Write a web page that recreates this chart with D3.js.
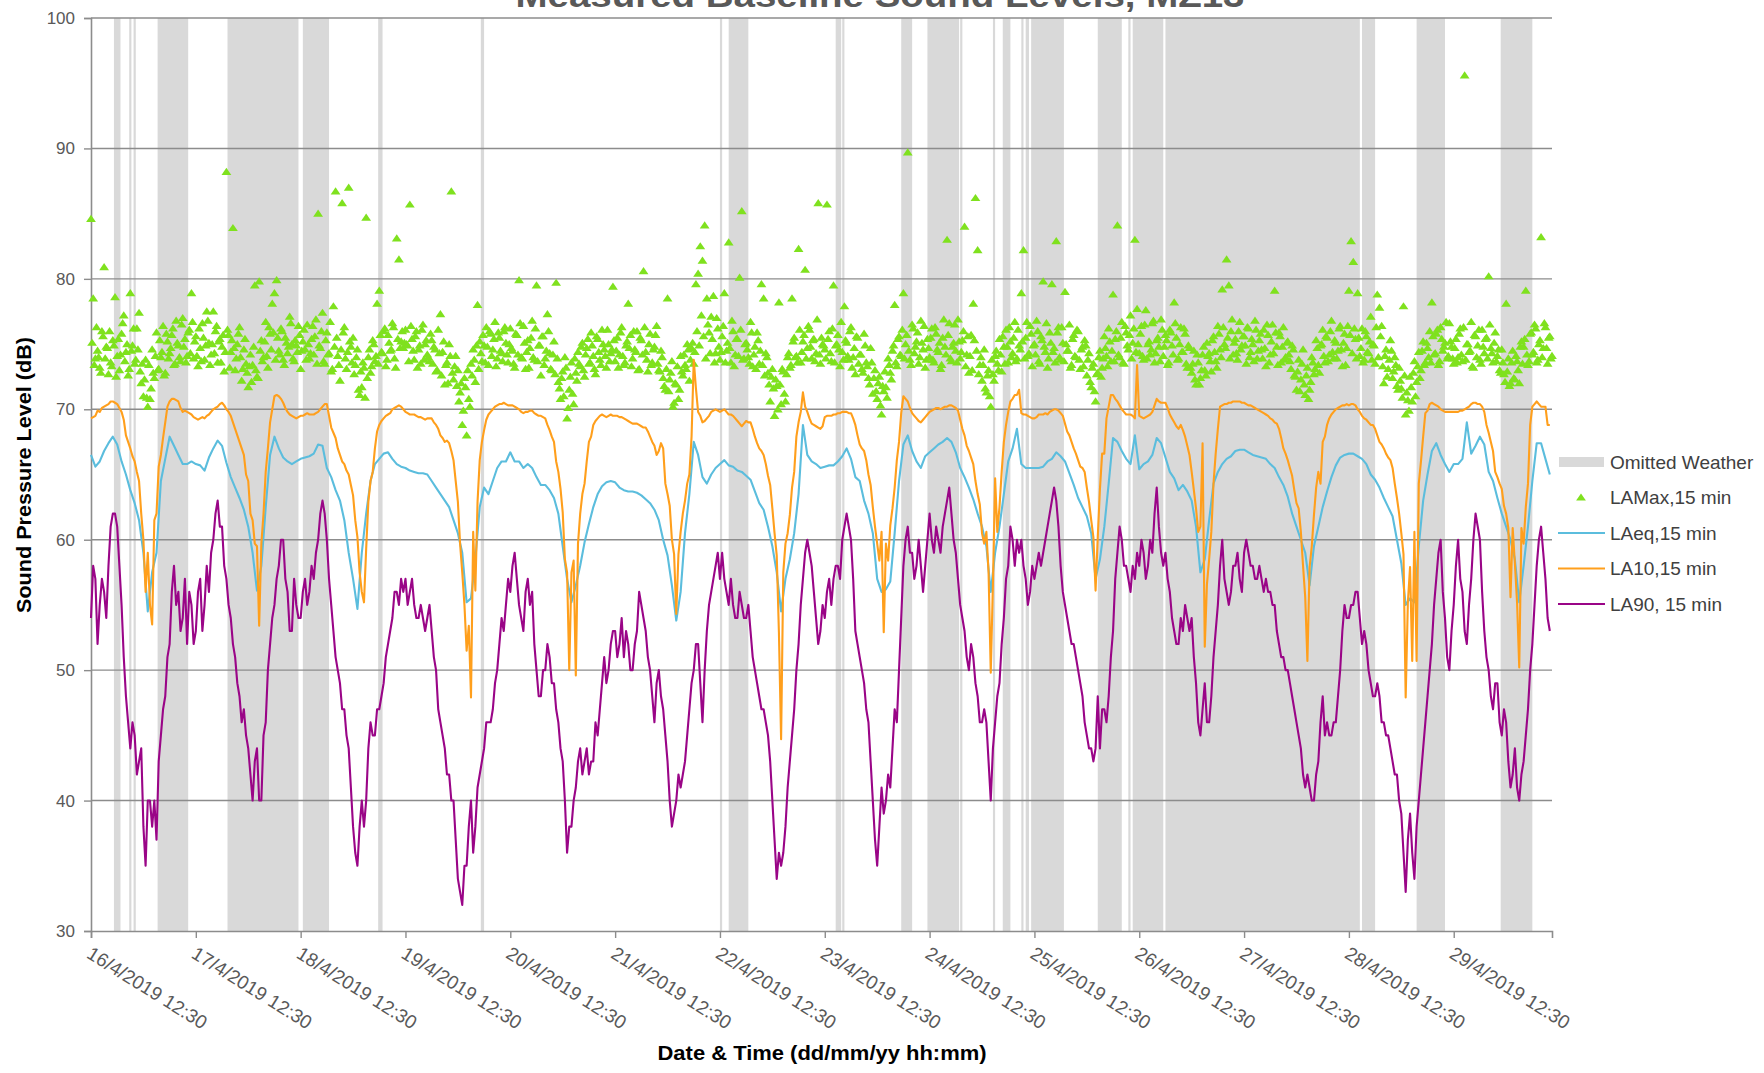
<!DOCTYPE html>
<html><head><meta charset="utf-8">
<script src="https://cdn.jsdelivr.net/npm/d3@7"></script>
<style>
body{margin:0;background:#fff;}
text{font-family:"Liberation Sans",Arial,sans-serif;}
</style>
</head><body>
<svg id="c" width="1764" height="1073"></svg>
<script>
// ---------- DATA ----------
const START = "2019-04-16 12:30";   // first sample
const END = "2019-04-30 11:00";     // end of plotted period

// LA90, half-hourly values starting 16/4/2019 12:30
const la90 = [
54,58,57,52,55,57,56,54,58,61,62,62,61,58,55,51,48,46,44,46,45,42,43,44,38,35,40,40,38,40,37,43,45,47,48,51,52,56,58,55,56,53,54,57,52,56,55,52,
53,56,57,53,55,58,56,59,60,62,63,61,61,58,57,55,54,52,51,49,48,46,47,45,44,42,40,43,44,40,40,45,46,50,52,54,55,57,58,60,60,57,56,53,53,57,55,54,
54,56,57,55,56,58,57,59,60,62,63,62,60,57,55,53,51,50,49,47,47,45,44,41,38,36,35,38,40,38,40,44,46,45,45,47,47,48,49,51,52,53,54,56,56,55,57,56,
57,55,56,57,55,54,54,55,54,53,54,55,53,51,50,47,46,45,44,42,42,40,40,37,34,33,32,35,35,38,40,36,38,41,42,43,44,46,46,46,47,49,50,52,54,53,55,57,
56,58,59,57,55,54,53,56,57,55,56,52,50,48,48,50,50,52,51,49,49,47,46,44,43,40,36,38,38,40,41,43,44,42,43,44,42,43,43,46,45,47,49,51,49,50,52,53,
53,51,52,54,51,53,52,50,50,52,53,56,55,54,53,51,50,48,46,49,50,48,47,45,43,40,38,39,40,42,41,42,43,45,47,49,50,52,52,49,46,50,53,55,56,57,58,59,
57,59,57,56,55,57,55,54,54,56,55,54,54,55,53,51,50,49,48,47,47,46,45,43,40,37,34,36,35,36,38,41,43,45,47,50,52,55,57,59,60,59,58,56,54,52,53,55,
54,56,57,55,57,58,58,57,60,61,62,61,60,57,53,52,51,50,49,47,46,43,40,37,35,38,41,39,40,42,41,44,47,46,50,54,58,60,61,59,59,57,58,60,58,56,58,60,
62,60,59,61,60,59,61,62,63,64,62,60,59,57,55,54,53,51,50,52,51,49,48,46,46,47,46,43,40,44,46,48,49,52,54,57,58,61,60,58,60,59,60,58,57,55,56,58,
57,58,59,58,59,60,61,62,63,64,63,61,58,56,55,54,53,52,52,51,50,49,48,46,45,44,44,43,44,48,44,47,47,46,48,51,53,57,59,61,60,58,58,57,56,58,57,59,
58,60,59,57,58,60,59,62,64,61,59,58,59,57,56,54,53,52,52,54,53,55,54,53,54,51,49,46,45,47,49,46,46,48,51,53,55,58,60,57,56,55,56,58,58,59,57,56,
59,60,59,58,58,57,57,58,57,56,57,56,56,55,55,53,52,51,51,50,50,49,48,47,46,45,44,42,41,42,41,40,40,42,43,46,48,45,46,45,45,46,46,48,50,53,55,54,
54,55,55,56,56,54,52,53,52,50,49,48,48,49,48,46,46,45,45,44,43,42,42,40,39,36,33,37,39,36,34,38,40,42,44,46,48,50,52,55,57,59,60,56,54,51,50,53,
55,58,60,57,56,53,52,55,57,60,62,61,60,56,53,51,50,48,47,49,49,46,45,47,46,43,41,42,44,41,40,42,43,45,47,50,52,55,58,60,61,59,57,54,53
];

// LA10, half-hourly
const la10 = [
69.3,69.4,69.5,69.9,69.8,70.1,70.2,70.3,70.4,70.6,70.6,70.5,70.4,70.1,69.8,69.2,68,67.5,67,66.4,66,65.2,64.5,62,60,56,59,55,53.5,61.5,62,65.6,66.5,67.8,69,70.2,70.6,70.8,70.8,70.7,70.6,70.1,69.8,69.9,69.8,69.7,69.6,69.4,
69.3,69.2,69.3,69.4,69.3,69.5,69.6,69.8,70,70.1,70.2,70.4,70.5,70.3,70,69.8,69.5,69,68.5,68,67.5,67,66.5,65,64.5,62,61.5,59.7,59.5,53.4,59.7,62,65.2,67,69,70,71,71.1,71,70.8,70.5,70.1,69.8,69.6,69.5,69.4,69.3,69.4,
69.5,69.5,69.6,69.7,69.6,69.6,69.6,69.7,69.8,70,70.2,70.4,70.4,69.5,68.6,68.2,67.8,67,66.5,66,65.8,65.3,65,64.2,63.4,61.5,60.2,57.5,56,55.2,59.3,62.9,64.5,65.2,67,68.3,68.8,69.1,69.3,69.5,69.6,69.7,70,70.1,70.2,70.3,70.2,70,
69.8,69.7,69.6,69.6,69.6,69.5,69.4,69.4,69.3,69.2,69.3,69.3,69.3,69,68.8,68.5,68,67.8,67.5,67.6,67.4,66.8,66.1,64.5,62.9,59.7,57.5,55,51.5,53.4,47.9,60.6,56.1,62.9,66.1,67.5,68.4,69.2,69.6,69.8,70,70.2,70.3,70.4,70.4,70.5,70.4,70.3,
70.3,70.3,70.2,70.1,70,69.8,69.7,69.8,69.8,69.9,69.9,69.7,69.6,69.5,69.5,69.4,69.3,68.8,68.4,67.9,67.5,66,65.2,63.9,62.1,58.5,57.5,50,57.5,58.4,49.6,59.7,62,63.5,64.3,66,67.5,67.9,68.8,69.1,69.3,69.5,69.6,69.5,69.4,69.5,69.6,69.5,
69.5,69.5,69.4,69.4,69.3,69.2,69.1,69,68.9,68.9,68.9,68.8,68.7,68.6,68.6,68.3,67.9,67.5,67.2,66.5,66.8,67.4,67,64.3,63.5,62.6,60,58.9,54.3,58.9,60.6,62,63,64.3,65,67.9,73.8,71.6,69.8,69.5,69,69.1,69.3,69.5,69.8,69.9,70,69.9,
69.8,69.9,70,69.8,69.6,69.6,69.5,69.3,69.1,68.9,68.7,68.9,69.1,69,69,68.5,67.9,67.4,67,66.8,66.5,65.8,64.9,64.2,62.4,60.5,58.8,52.9,44.7,57.5,59.7,60.5,61.9,64,65.2,67.9,69,69.8,71.3,70.2,69.8,69.3,68.9,68.8,68.7,68.6,68.5,68.7,
69.4,69.5,69.5,69.5,69.6,69.6,69.7,69.7,69.8,69.8,69.8,69.7,69.7,69.3,68.8,68,67.3,67,66.8,66.1,65,64.2,62.5,61,59.7,58.4,60.6,52.9,59.7,58.4,61.1,62.4,64,66.1,67.5,69.7,71,70.8,70.6,70.1,69.7,69.5,69.3,69.1,69,69.2,69.4,69.6,
69.8,69.9,70,70.1,70.1,70,70.1,70.2,70.2,70.3,70.3,70.2,70.1,69.9,69.2,68.5,68,67.2,66.8,66.3,65.8,64.5,63.5,62.7,60.5,59.7,60.6,57.5,49.8,56.6,64.7,60.6,62.5,65.2,67.5,68.8,69.8,70.6,70.8,71.1,71.1,71.5,69.7,69.6,69.6,69.5,69.4,69.3,
69.3,69.4,69.6,69.6,69.6,69.7,69.6,69.8,69.9,70,70,69.9,69.7,69.5,68.9,68.3,68,67.5,67,66.6,66.1,65.6,65.5,65.2,64,62.9,61.5,60.2,56.1,60.2,63.9,66.6,66.6,69.3,70.2,71.1,71.1,70.8,70.6,70.3,70,69.8,69.6,69.6,69.6,69.5,69.3,73.4,
69.5,69.4,69.3,69.4,69.5,69.6,69.8,70.3,70.8,70.6,70.5,70.5,70.5,70.1,69.6,69.3,69,68.7,68.5,68.8,68.4,67.9,67.2,66.5,65.2,63.8,62.4,60.6,61,67.4,51.8,56.6,58.5,60.6,64.3,66.6,68.5,70.2,70.3,70.4,70.4,70.5,70.5,70.6,70.6,70.6,70.6,70.5,
70.5,70.4,70.3,70.3,70.2,70.1,70,69.9,69.8,69.7,69.6,69.5,69.3,69.2,69,68.9,68.5,67.8,67,66.6,66.1,65.5,64.9,63.8,62.8,62.4,60.6,58,55.6,50.7,57.9,59.5,61.9,64,65.2,64.3,67.5,67.9,68.8,69.3,69.6,69.8,70,70.1,70.2,70.3,70.3,70.4,
70.3,70.4,70.4,70.3,70,69.8,69.5,69.3,69.2,69,68.8,68.8,68.5,68,67.5,67.3,67,66.6,66.3,66.1,65.5,64.3,63.2,62,60.5,58.9,47.9,55.2,57.9,50.7,60.6,50.7,64.3,66,67.9,69.7,69.9,70.4,70.5,70.4,70.3,70.2,70,69.9,69.8,69.8,69.8,69.8,
69.8,69.8,69.8,69.9,69.9,70,70.1,70.2,70.4,70.5,70.5,70.4,70.4,70.2,69.8,68.8,68.2,67.5,66.8,65.2,64.8,64.3,63.9,62.6,62,60.9,55.6,60.9,58.2,55.2,50.2,60.9,59.7,62.5,64.3,68.8,70.2,70.4,70.6,70.4,70.2,70.2,70.2,68.8,68.8
];

// LAeq, hourly
const laeq = [
66.5,65.6,66,66.8,67.4,67.9,67.3,66,65,63.8,62.8,61.5,59,54.5,57.5,59,64.5,66.2,67.9,67.2,66.5,65.8,65.8,66,
65.8,65.7,65.3,66.3,67,67.6,67.2,65.9,64.8,64,63.2,62.3,61,59,56.1,58,62.5,66.5,67.9,67,66.3,66,65.8,66,
66.2,66.3,66.4,66.6,67.3,67.2,65.5,64.8,63.8,63,61.5,59,57,54.7,59,62,64.5,65.8,66.2,66.6,66.7,66.2,65.8,65.6,
65.5,65.3,65.2,65.1,65.1,65,64.5,64,63.5,63,62.5,61.5,60.5,59,55.2,55.5,58.5,62.5,64,63.5,64.5,65.5,66,66,
66.7,66,66,65.5,65.8,65.5,64.8,64.2,64.2,63.8,63.2,62,59.5,57,55.2,56.5,58,59.8,61.2,62.5,63.5,64.1,64.4,64.5,
64.4,64,63.8,63.7,63.7,63.6,63.4,63.1,62.8,62.3,61.5,60,58.8,56.5,53.8,56,60.5,63.5,67.5,66.5,64.8,64.3,65,65.5,
65.8,66.1,65.7,65.6,65.3,65.2,64.9,64.6,63.7,62.8,62.3,61,59.5,57.5,54.5,57,58.5,60.5,63.5,68.8,66.5,66,65.8,65.5,
65.6,65.7,65.7,66,66.4,67,66.2,64.8,64.5,63,62,60.5,57,56,56.2,56.8,60.5,64.5,67.3,68,66.8,66,65.5,66.4,
66.7,67,67.3,67.5,67.8,67.5,66.7,65.5,64.8,64,63.1,62,61,59.5,56,59,61,63.5,66,67,68.5,65.8,65.5,65.5,
65.5,65.5,65.6,66,66.2,66.7,66.4,66,65.1,64.2,63.2,62.5,61.8,60.5,57,58.5,61,64.3,67.8,67.5,66.8,66.2,65.8,68,
65.4,65.8,66,66.5,67.8,67.4,66.3,65.2,64.7,63.8,64.2,63.7,63,61,57.5,58.5,61.5,64.3,65.2,65.8,66.2,66.4,66.8,66.9,
66.9,66.7,66.5,66.4,66.3,66.2,65.8,65.5,64.8,64.2,63.3,62,61,60,59,56.5,59.5,61,62.5,63.7,64.8,65.7,66.3,66.5,
66.6,66.6,66.4,66.2,65.8,65,64.6,64,63.2,62.5,61.8,60,58.2,55,55.5,55.2,59.5,63,65,66.8,67.4,66.5,65.8,65.2,
65.8,65.8,66.2,69,66.6,67.2,67.9,67.3,65.2,64.5,63.2,62,61,60,58.5,55.2,58,61,64.5,67.4,67.4,66.2,65
];

// LAMax at :30 / :00 (half-hourly from 16/4/2019 12:30)
const lamax = [
84.6,78.5,73.9,74.5,73.2,76.0,80.9,74.8,72.7,73.6,75.3,78.6,74.1,73.0,75.8,77.2,74.4,72.6,78.9,74.9,73.5,76.2,77.4,72.0,
71.0,73.8,70.2,70.8,74.6,72.4,75.9,73.1,74.0,76.4,72.8,75.2,74.3,75.7,73.4,76.8,74.9,73.7,77.0,75.4,74.1,76.1,78.9,73.9,
75.6,73.3,74.7,76.6,73.8,77.5,75.1,74.2,77.5,76.0,73.6,75.4,74.8,72.9,88.2,75.7,74.4,83.9,73.0,75.0,76.3,72.2,74.6,73.5,
71.7,74.2,73.4,79.5,72.5,79.8,75.3,74.0,76.7,73.2,75.8,78.1,78.9,79.9,74.5,76.2,73.8,75.5,74.3,77.1,75.0,73.7,74.9,76.4,
73.1,75.2,74.6,76.5,73.9,75.4,74.2,76.9,85.0,74.7,77.4,73.5,75.9,74.3,72.9,77.9,86.7,74.1,72.2,85.8,76.3,73.1,87.0,74.8,
75.5,73.4,74.6,71.1,71.7,73.2,84.7,74.0,72.8,75.3,73.7,78.1,79.1,74.4,76.0,73.3,75.7,74.5,76.6,73.9,83.1,81.5,75.2,74.7,
76.1,74.9,85.7,75.4,73.8,76.0,74.6,73.5,76.5,75.0,74.2,73.7,75.3,74.8,72.9,76.1,77.3,74.4,71.9,73.6,75.0,86.7,72.3,74.1,
73.0,71.3,68.8,72.4,68.0,70.8,73.5,74.6,72.1,78.0,75.2,73.7,74.9,76.3,73.4,75.8,74.6,76.7,73.9,75.5,74.3,76.0,75.1,73.6,
76.2,74.5,73.2,75.7,79.9,74.0,76.4,73.1,75.3,74.7,76.8,73.8,79.5,74.9,72.6,75.6,73.9,77.3,74.3,73.0,75.2,79.7,72.1,70.8,
72.9,74.0,69.3,71.5,73.6,70.4,72.8,74.4,73.3,75.1,72.5,74.7,73.5,75.9,74.1,72.7,75.4,73.8,76.1,74.6,73.2,75.0,74.3,79.4,
73.7,75.5,74.2,76.3,73.4,74.9,78.1,75.7,73.9,74.6,76.0,73.1,75.3,80.6,74.4,72.9,75.8,73.6,74.8,76.4,73.0,74.5,72.4,71.5,
78.5,72.3,73.7,70.5,71.9,70.8,74.1,72.6,73.4,75.0,72.2,74.7,73.5,79.6,80.4,82.5,81.4,84.1,78.5,75.9,77.1,78.7,74.3,76.2,
73.8,75.6,78.9,74.5,82.8,73.6,76.0,74.2,75.4,80.1,85.2,73.9,75.1,74.0,76.7,73.3,74.8,75.9,73.5,79.6,78.5,74.3,72.8,70.6,
73.1,69.5,71.8,78.2,70.4,72.9,70.6,74.0,73.2,78.5,75.5,74.1,82.3,73.6,75.2,80.7,74.7,76.1,73.9,75.4,74.3,85.8,73.5,75.0,
74.6,85.7,76.0,73.7,79.5,74.9,75.7,73.3,74.4,77.9,75.1,73.8,76.3,74.0,72.7,75.5,74.2,73.1,75.8,73.6,72.4,74.7,71.2,73.0,
70.8,72.5,69.6,71.4,71.7,73.9,72.8,74.5,78.0,73.3,75.6,74.1,78.9,75.0,89.7,73.8,76.5,74.3,75.2,73.5,76.8,74.6,73.2,75.4,
74.0,76.2,73.6,75.8,74.4,73.1,75.5,74.8,83.0,76.6,73.7,75.1,74.5,76.9,73.9,75.3,84.0,74.2,72.8,75.7,78.1,86.2,82.2,73.4,
72.2,74.6,71.3,73.0,70.2,72.7,74.1,73.5,75.4,72.9,74.8,76.1,73.6,75.2,74.3,76.7,73.9,74.9,78.9,82.2,75.5,74.1,76.4,73.3,
75.0,76.8,73.7,75.6,79.8,74.4,73.2,75.9,79.6,74.7,82.9,76.3,73.8,75.1,79.0,74.5,76.5,73.4,75.7,74.0,76.0,73.1,74.8,75.3,
72.6,74.3,71.7,73.5,70.6,72.8,74.5,73.2,75.6,74.1,76.2,73.7,78.8,75.4,84.1,74.0,76.7,73.5,75.9,74.6,77.2,75.1,83.0,77.7,
74.3,76.4,73.8,77.6,75.0,74.2,76.6,73.6,75.3,74.8,76.9,74.1,75.7,73.4,76.1,74.9,78.2,75.5,73.9,76.3,74.4,75.8,73.2,74.7,
72.8,74.5,71.9,73.6,72.4,74.2,73.0,75.1,74.3,72.9,75.6,73.7,76.4,74.6,79.2,75.0,81.5,79.5,76.0,74.2,75.4,73.8,76.7,74.9,
75.6,73.5,76.2,74.4,75.0,76.8,73.9,75.3,74.6,76.1,73.3,75.7,74.2,76.5,79.1,74.8,75.9,73.6,76.3,74.0,75.2,73.7,74.9,72.6,
71.5,73.8,72.3,74.6,71.1,73.2,71.5,74.0,72.7,75.3,73.4,74.9,76.1,73.6,75.5,74.2,76.8,73.9,75.1,74.5,76.4,73.3,75.8,74.7,
79.1,82.9,81.3,75.4,78.9,74.1,76.2,73.8,75.6,74.3,77.1,75.0,73.5,78.8,77.8,76.4,72.0,74.6,73.1,75.3,72.4,74.0,71.8,73.2,
71.6,77.9,69.6,70.7,72.5,70.6,73.7,72.1,74.4,73.0,75.2,73.6,74.7,76.0,78.2,74.2,75.8,73.4,76.3,74.5,75.1,73.9,76.6,74.8,
73.5,75.4,74.0,76.2,73.7,95.6,75.0,74.4,76.7,73.2,75.6,74.9,73.8,76.1,74.3,75.5,80.2,74.7,73.6,75.9,74.1,73.0,74.6,72.7,
78.1,73.9,72.0,74.5,72.3,73.7,72.0,75.2,74.8,79.1,73.4,75.8,74.2,76.5,73.6,75.0,83.2,74.7,76.3,73.5,75.6,74.1
];

// LAMax at :45 / :15 (the other 15-min samples, half-hourly from 16/4/2019 12:45)
const lamaxB = [
75.1,73.4,76.3,74.0,72.8,75.6,73.9,74.7,76.0,73.3,74.9,72.5,75.4,74.2,76.6,73.7,75.0,73.1,74.5,76.2,73.8,74.6,72.9,73.5,
72.3,70.9,73.4,71.6,72.8,74.1,73.0,75.3,74.4,72.6,75.8,73.9,74.7,76.2,73.5,75.1,74.0,76.5,74.8,73.6,75.9,74.3,76.7,75.2,
74.1,76.2,73.7,75.5,74.9,76.8,73.4,75.0,74.3,76.4,75.2,73.6,75.7,74.4,76.1,73.2,75.3,74.7,73.9,75.8,74.0,73.1,75.4,72.8,
73.3,72.1,74.8,73.0,72.4,74.5,73.7,75.2,74.1,76.3,74.6,75.9,73.8,75.5,74.2,76.0,73.4,75.1,74.8,76.6,73.9,75.3,74.4,75.7,
74.5,76.1,73.8,75.0,74.3,76.4,75.6,73.5,74.9,76.0,73.7,75.3,74.2,76.7,73.1,74.8,75.5,73.4,74.6,75.9,73.9,74.4,75.2,73.6,
72.7,74.0,71.5,72.9,73.6,70.9,72.4,74.6,73.3,75.0,74.1,73.5,75.7,74.3,76.2,73.8,75.1,74.6,76.3,73.2,75.4,74.7,76.0,75.1,
75.0,73.7,76.4,74.5,75.6,73.2,74.9,76.1,73.8,75.3,74.0,75.8,73.5,74.6,73.0,74.3,72.6,75.2,73.4,72.0,74.1,72.8,73.3,71.8,
70.6,72.0,69.9,71.7,73.0,70.2,72.6,73.8,74.9,73.1,74.3,75.7,73.6,74.8,76.0,74.1,75.4,73.3,75.9,74.5,73.7,76.3,74.2,75.0,
74.7,73.5,75.8,74.2,76.6,73.9,75.1,74.4,73.2,75.5,74.0,76.2,73.7,74.9,75.6,73.4,74.5,76.0,73.1,74.2,72.7,73.9,71.6,72.4,
71.0,73.2,70.1,72.5,71.2,73.9,72.2,73.5,74.8,73.0,74.2,75.4,73.6,74.9,73.1,75.6,74.4,73.4,75.0,74.1,76.1,73.7,74.6,75.3,
74.5,73.2,75.9,74.1,73.6,75.2,74.7,73.3,76.0,74.4,73.0,75.5,74.2,76.3,73.8,75.0,73.4,74.6,75.7,73.5,72.9,74.0,71.8,73.1,
71.4,72.8,70.2,72.0,73.3,71.5,72.9,74.2,73.1,74.6,73.8,75.1,74.4,76.0,74.9,77.2,75.6,73.9,76.5,74.3,75.4,73.6,77.0,74.8,
74.4,76.4,73.6,75.1,74.7,76.8,73.3,75.4,74.1,76.1,73.8,75.0,74.6,73.5,75.9,74.2,73.1,75.3,74.5,73.4,72.6,74.0,71.9,72.5,
71.6,72.3,70.0,71.9,73.1,71.2,72.7,74.3,73.4,75.2,74.0,73.6,76.1,74.4,75.7,73.9,76.4,74.8,75.3,73.7,76.9,74.2,75.5,74.9,
73.9,75.4,74.3,76.2,73.6,75.0,74.6,76.7,73.8,75.3,74.1,76.0,73.2,74.7,75.6,73.5,74.2,72.8,74.9,73.3,71.9,73.6,72.4,71.4,
72.0,70.3,71.8,72.9,70.9,73.4,72.3,74.9,73.6,75.4,74.2,76.1,73.9,75.7,74.5,73.4,76.2,74.8,75.9,74.0,75.1,76.4,73.8,74.7,
75.5,73.8,76.3,74.6,75.1,73.4,76.9,74.2,75.7,73.9,74.8,76.5,73.6,75.2,74.4,76.0,73.3,75.6,74.1,73.0,75.3,74.5,72.7,74.0,
73.4,71.6,72.6,71.0,73.8,72.2,74.5,73.0,74.2,75.6,73.5,74.8,76.3,74.0,75.5,73.7,76.1,74.6,75.2,73.9,76.7,74.3,75.8,74.9,
74.2,76.0,73.5,75.3,74.8,76.6,73.9,75.1,74.4,73.6,75.9,74.0,76.3,73.7,75.0,74.5,73.2,75.4,74.1,76.1,73.8,74.6,73.3,74.9,
73.8,72.1,73.2,71.4,72.7,74.0,72.5,73.9,74.7,73.3,75.2,74.5,73.7,76.0,74.2,75.5,73.6,76.4,74.9,75.7,73.9,76.2,74.4,75.0,
75.8,74.1,76.5,73.9,75.2,74.6,76.8,74.3,75.5,73.7,76.1,74.8,75.3,73.6,75.9,74.2,76.6,73.8,75.0,74.4,76.2,73.5,74.9,73.2,
73.5,72.3,74.2,71.9,73.0,74.8,72.6,74.1,73.7,75.3,74.4,73.2,75.8,74.0,76.3,74.7,75.5,73.9,76.9,75.1,74.3,76.0,74.6,75.6,
74.9,76.3,74.0,75.4,73.7,76.1,74.5,75.8,73.9,74.7,76.5,73.6,75.2,74.3,75.9,73.4,75.6,74.8,73.8,75.1,74.2,73.1,74.6,72.5,
72.9,71.4,73.5,71.9,72.6,70.8,72.1,73.6,73.1,74.7,72.8,75.0,74.1,75.6,73.7,76.0,74.4,75.3,73.9,76.2,74.6,75.1,73.4,76.4,
75.7,74.3,76.2,73.9,75.5,74.7,73.6,76.0,74.4,75.2,73.8,74.9,76.3,74.0,75.6,73.3,74.1,72.5,73.8,74.5,72.9,73.4,71.5,72.2,
70.9,72.6,71.3,69.9,71.7,72.8,71.0,73.3,72.4,74.5,73.4,75.1,74.0,73.6,75.6,74.3,76.1,73.7,75.4,74.8,76.7,74.1,75.2,73.9,
74.7,73.6,75.8,74.2,76.3,73.8,75.0,74.5,73.3,75.7,74.0,76.1,73.5,74.8,75.4,73.9,76.5,74.3,75.1,73.7,74.6,72.8,73.6,72.1,
72.9,71.8,73.6,72.4,74.1,73.0,74.8,73.5,75.4,74.2,73.7,75.9,74.4,76.2,73.8,75.3,74.0,76.6,74.7,75.5,73.9,74.6
];

// Omitted weather periods [start, end]
const omitted = [
["2019-04-16 17:45","2019-04-16 19:15"],
["2019-04-16 21:15","2019-04-16 21:45"],
["2019-04-16 22:15","2019-04-16 22:45"],
["2019-04-17 03:45","2019-04-17 10:45"],
["2019-04-17 19:45","2019-04-18 12:00"],
["2019-04-18 13:00","2019-04-18 19:00"],
["2019-04-19 06:15","2019-04-19 07:15"],
["2019-04-20 05:45","2019-04-20 06:30"],
["2019-04-22 12:30","2019-04-22 13:00"],
["2019-04-22 14:30","2019-04-22 19:00"],
["2019-04-23 15:00","2019-04-23 16:15"],
["2019-04-23 16:30","2019-04-23 17:00"],
["2019-04-24 06:00","2019-04-24 08:30"],
["2019-04-24 12:00","2019-04-24 19:15"],
["2019-04-24 19:30","2019-04-24 20:00"],
["2019-04-25 03:00","2019-04-25 03:30"],
["2019-04-25 05:15","2019-04-25 07:00"],
["2019-04-25 09:30","2019-04-25 10:00"],
["2019-04-25 10:30","2019-04-25 11:15"],
["2019-04-25 11:45","2019-04-25 19:15"],
["2019-04-26 03:00","2019-04-26 08:30"],
["2019-04-26 10:00","2019-04-26 10:30"],
["2019-04-26 11:00","2019-04-26 18:00"],
["2019-04-26 18:30","2019-04-28 15:00"],
["2019-04-28 15:30","2019-04-28 18:30"],
["2019-04-29 04:00","2019-04-29 10:30"],
["2019-04-29 23:15","2019-04-30 06:30"]
];

const xTickLabels = ["16/4/2019 12:30","17/4/2019 12:30","18/4/2019 12:30","19/4/2019 12:30",
"20/4/2019 12:30","21/4/2019 12:30","22/4/2019 12:30","23/4/2019 12:30","24/4/2019 12:30",
"25/4/2019 12:30","26/4/2019 12:30","27/4/2019 12:30","28/4/2019 12:30","29/4/2019 12:30"];
const yTicks = [30,40,50,60,70,80,90,100];
const gridValues = [40,50,60,70,80,90,100];

const TITLE = "Measured Baseline Sound Levels, MZ13";
const X_TITLE = "Date & Time (dd/mm/yy hh:mm)";
const Y_TITLE = "Sound Pressure Level (dB)";
const legendItems = [
  {key:"omit", label:"Omitted Weather"},
  {key:"lamax", label:"LAMax,15 min"},
  {key:"laeq", label:"LAeq,15 min"},
  {key:"la10", label:"LA10,15 min"},
  {key:"la90", label:"LA90, 15 min"}
];

// ---------- STYLE / LAYOUT ----------
const COL = {omit:"#D9D9D9", lamax:"#7FE11E", laeq:"#5BBDDD", la10:"#FF9F1C", la90:"#9A0587", grid:"#8C8C8C"};
const L = 91, R = 1552, T = 18, B = 931;

const parse = d3.timeParse("%Y-%m-%d %H:%M");
const parseTick = d3.timeParse("%d/%m/%Y %H:%M");
const t0 = parse(START);

const x = d3.scaleTime().domain([t0, parse(END)]).range([L, R]);
const y = d3.scaleLinear().domain([30, 100]).range([B, T]);

const svg = d3.select("#c");

// omitted weather bands
svg.append("g").selectAll("rect").data(omitted).join("rect")
  .attr("x", d => x(parse(d[0])))
  .attr("width", d => Math.max(1, x(parse(d[1])) - x(parse(d[0]))))
  .attr("y", T).attr("height", B - T)
  .attr("fill", COL.omit);

// gridlines
svg.append("g").selectAll("line").data(gridValues).join("line")
  .attr("x1", L).attr("x2", R)
  .attr("y1", d => y(d)).attr("y2", d => y(d))
  .attr("stroke", COL.grid).attr("stroke-width", 1.4);

// axes
const yAxis = svg.append("g").attr("transform", `translate(${L},0)`)
  .call(d3.axisLeft(y).tickValues(yTicks).tickSize(7).tickPadding(9).tickFormat(d3.format("d")));
const xTickDates = xTickLabels.map(s => parseTick(s));
const xAxis = svg.append("g").attr("transform", `translate(0,${B})`)
  .call(d3.axisBottom(x).tickValues(xTickDates).tickSize(7).tickFormat((d, i) => xTickLabels[i]));

[yAxis, xAxis].forEach(g => {
  g.select(".domain").attr("stroke", COL.grid).attr("stroke-width", 1.6);
  g.selectAll(".tick line").attr("stroke", COL.grid).attr("stroke-width", 1.4);
  g.selectAll("text").attr("font-family", "'Liberation Sans', Arial, sans-serif")
    .attr("font-size", 17).attr("fill", "#595959");
});
xAxis.selectAll(".tick text")
  .attr("font-size", 19)
  .attr("text-anchor", "start")
  .attr("y", 0).attr("dy", 0)
  .attr("transform", "translate(-6,26) rotate(32)");

// LAMax triangles (15-min samples built from the two half-hourly arrays)
const lamaxPts = [];
lamax.forEach((v, i) => {
  lamaxPts.push({t: d3.timeMinute.offset(t0, 30 * i), v});
  if (i < lamaxB.length) lamaxPts.push({t: d3.timeMinute.offset(t0, 30 * i + 15), v: lamaxB[i]});
});
const tri = "M0,-4.1L4.9,3.1L-4.9,3.1Z";
svg.append("g").selectAll("path").data(lamaxPts.filter(p => p.t <= x.domain()[1])).join("path")
  .attr("d", tri)
  .attr("transform", d => `translate(${x(d.t)},${y(d.v)})`)
  .attr("fill", COL.lamax);

// lines
function drawLine(arr, stepMin, color) {
  const line = d3.line()
    .x((d, i) => x(d3.timeMinute.offset(t0, stepMin * i)))
    .y(d => y(d));
  svg.append("path").datum(arr).attr("d", line)
    .attr("fill", "none").attr("stroke", color).attr("stroke-width", 2.1)
    .attr("stroke-linejoin", "round");
}
drawLine(laeq, 60, COL.laeq);
drawLine(la10, 30, COL.la10);
drawLine(la90, 30, COL.la90);

// title (partially cut off at top, as in reference)
svg.append("text").attr("x", 880).attr("y", 7).attr("text-anchor", "middle")
  .attr("font-size", 34).attr("font-weight", "bold").attr("fill", "#595959")
  .attr("textLength", 729).attr("lengthAdjust", "spacingAndGlyphs").text(TITLE);

// axis titles
svg.append("text").attr("x", 822).attr("y", 1060).attr("text-anchor", "middle")
  .attr("font-size", 21).attr("font-weight", "bold").attr("fill", "#000")
  .attr("textLength", 329).attr("lengthAdjust", "spacingAndGlyphs").text(X_TITLE);
svg.append("text").attr("transform", "translate(31,475) rotate(-90)").attr("text-anchor", "middle")
  .attr("font-size", 21).attr("font-weight", "bold").attr("fill", "#000")
  .attr("textLength", 276).attr("lengthAdjust", "spacingAndGlyphs").text(Y_TITLE);

// legend
const lg = svg.append("g");
const ly0 = 462, lstep = 35.5;
legendItems.forEach((it, i) => {
  const yy = ly0 + i * lstep;
  if (it.key === "omit") {
    lg.append("rect").attr("x", 1559).attr("y", yy - 5).attr("width", 45).attr("height", 10).attr("fill", COL.omit);
  } else if (it.key === "lamax") {
    lg.append("path").attr("d", tri).attr("transform", `translate(1581,${yy})`).attr("fill", COL.lamax);
  } else {
    lg.append("line").attr("x1", 1558).attr("x2", 1605).attr("y1", yy).attr("y2", yy)
      .attr("stroke", COL[it.key]).attr("stroke-width", 2.1);
  }
  lg.append("text").attr("x", 1610).attr("y", yy).attr("dy", "0.35em")
    .attr("font-size", 19).attr("fill", "#404040").text(it.label);
});
</script>
</body></html>
